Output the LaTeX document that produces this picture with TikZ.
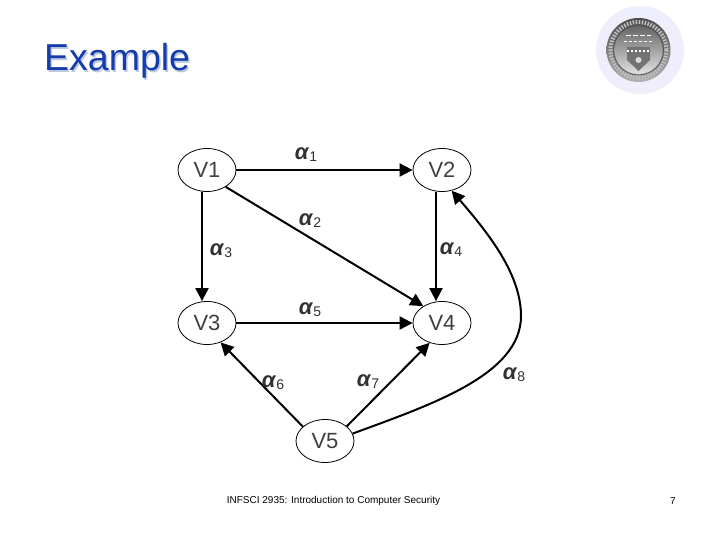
\documentclass[tikz,border=0pt]{standalone}
\usepackage{fontspec}
\setmainfont{Liberation Sans}
\usetikzlibrary{arrows.meta,shapes.geometric}
\definecolor{titleblue}{RGB}{20,60,170}
\definecolor{titleshadow}{RGB}{190,200,225}
\definecolor{labgray}{RGB}{50,50,50}
\definecolor{sealhalo}{RGB}{238,238,252}
\tikzset{
  x=1pt,y=-1pt,
  vertex/.style={draw=black,line width=0.8pt,ellipse,minimum width=58pt,minimum height=43pt,inner sep=0pt,text=black!75,font=\fontsize{22}{24}\selectfont},
  edge/.style={draw=black,line width=2pt,-{Triangle[length=13pt,width=13pt]}},
  lab/.style={inner sep=0pt,text=labgray,font=\fontsize{22}{24}\selectfont},
  titletext/.style={inner sep=0pt,anchor=west,font=\fontsize{37.5}{40}\selectfont},
  foot/.style={inner sep=0pt,text=black,font=\fontsize{10}{12}\selectfont}
}
\newcommand{\alab}[1]{\textit{\textbf{α}}\raisebox{-2pt}{\fontsize{14}{15}\selectfont #1}}
\newcommand{\vlab}[1]{\raisebox{-1.5pt}{#1}}
\begin{document}
\begin{tikzpicture}
\useasboundingbox (0,0) rectangle (720,540);
\fill[white] (0,0) rectangle (720,540);
% title
\node[titletext,text=titleshadow] (titleshade) at (45.5,62.5) {Example};
\node[titletext,text=titleblue] (title) at (44,61) {Example};
% seal
\fill[sealhalo] (640,50) circle (44);
\shade[top color=black!70,bottom color=black!30] (638.5,50) circle (32);
\draw[white!75!black,line width=4pt,dash pattern=on 1.5pt off 1.5pt] (638.5,50) circle (28);
\draw[black!70,line width=0.6pt] (638.5,50) circle (25);
\shade[top color=black!60,bottom color=black!12] (638.5,50) circle (24);
\draw[white,line width=0.8pt,dash pattern=on 5pt off 2pt] (626,35) -- (651,35);
\draw[white,line width=0.8pt,dash pattern=on 3pt off 2pt] (624,41) -- (653,41);
\fill[black!55] (627,47) -- (650,47) -- (650,60) -- (638.5,71) -- (627,60) -- cycle;
\draw[white,line width=2pt,dash pattern=on 2pt off 2pt] (627,51) -- (650,51);
\fill[black!15] (638.5,60) circle (3);
% vertices
\node[vertex] (v1) at (207,170) {\vlab{V1}};
\node[vertex] (v2) at (442,170) {\vlab{V2}};
\node[vertex] (v3) at (207,323) {\vlab{V3}};
\node[vertex] (v4) at (442,323) {\vlab{V4}};
\node[vertex] (v5) at (325,441) {\vlab{V5}};
\coordinate (bend) at (521,316);
% edges
\draw[edge] (v1) -- (v2);
\draw[edge] ([xshift=-5pt]v1.south) -- ([xshift=-5pt]v3.north);
\draw[edge] (v1.-42) -- (v4.138);
\draw[edge] ([xshift=-6pt]v2.south) -- ([xshift=-6pt]v4.north);
\draw[edge] (v3) -- (v4);
\draw[edge] (v5.147) -- (v3.-55);
\draw[edge] (v5.34) -- (v4.-122);
\draw[edge] (v5.15) .. controls (430,405) and (521,375) .. (bend) .. controls (521,275) and (490,235) .. (v2.-65);
% labels
\node[lab] (a1) at (306,155) {\alab{1}};
\node[lab] (a2) at (310,221) {\alab{2}};
\node[lab] (a3) at (221,251) {\alab{3}};
\node[lab] (a4) at (451,250) {\alab{4}};
\node[lab] (a5) at (310,310) {\alab{5}};
\node[lab] (a6) at (273,383) {\alab{6}};
\node[lab] (a7) at (368,382) {\alab{7}};
\node[lab] (a8) at (514,375) {\alab{8}};
% footer
\node[foot] (footer) at (333.5,501) {INFSCI 2935: Introduction to Computer Security};
\node[foot] (pagenum) at (673,501) {7};
\end{tikzpicture}
\end{document}
